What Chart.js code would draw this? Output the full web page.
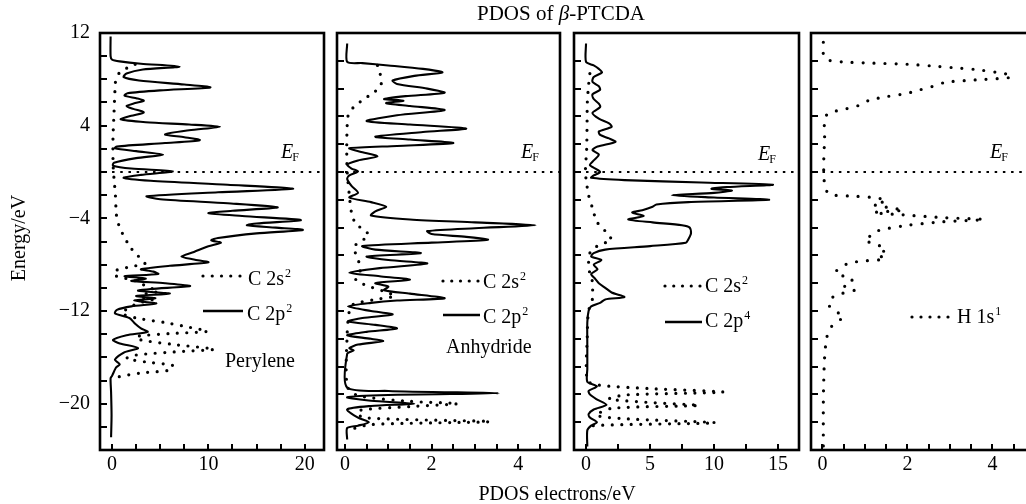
<!DOCTYPE html>
<html><head><meta charset="utf-8">
<script src="https://cdn.jsdelivr.net/npm/chart.js@4.4.1/dist/chart.umd.min.js"></script>
<style>
html,body{margin:0;padding:0;background:#fff;width:1026px;height:504px;overflow:hidden}
canvas{position:absolute;left:0;top:0}
</style></head><body>
<canvas id="p1" width="1040" height="504"></canvas>
<canvas id="p2" width="1040" height="504"></canvas>
<canvas id="p3" width="1040" height="504"></canvas>
<canvas id="p4" width="1040" height="504"></canvas>
<script>
const FONT = '"Liberation Serif","Times New Roman",Times,serif';
const E_MIN = -24, E_MAX = 12, EF = 0;

// [energy (eV), PDOS (electrons/eV)]
const peryleneC2p = [[11.7,-0.15],[10.0,-0.15],[9.7,0.0],[9.55,0.8],[9.35,3.0],[9.1,7.0],[8.85,3.2],[8.5,1.5],[8.2,1.2],[7.9,2.8],[7.55,7.5],[7.3,10.2],[7.05,5.0],[6.8,1.6],[6.6,1.3],[6.35,2.6],[6.15,3.3],[5.95,2.4],[5.7,1.5],[5.45,2.2],[5.15,3.3],[4.85,2.0],[4.55,0.9],[4.3,3.5],[4.1,8.0],[3.9,11.2],[3.6,8.0],[3.25,5.5],[3.0,7.5],[2.75,9.1],[2.5,5.5],[2.2,0.5],[2.05,0.3],[1.8,2.5],[1.5,5.3],[1.2,2.5],[0.8,0.2],[0.55,0.1],[0.3,2.0],[0.05,6.3],[-0.25,3.0],[-0.5,1.2],[-0.75,4.0],[-1.1,12.0],[-1.45,18.8],[-1.75,11.0],[-2.1,3.6],[-2.35,5.0],[-2.7,12.0],[-3.05,17.2],[-3.35,12.5],[-3.55,10.0],[-3.8,13.5],[-4.15,19.6],[-4.45,15.0],[-4.6,14.0],[-4.8,17.0],[-5.0,19.8],[-5.3,15.0],[-5.7,11.0],[-5.9,10.3],[-6.1,11.3],[-6.4,10.0],[-6.9,8.5],[-7.3,7.2],[-7.55,8.5],[-7.8,10.0],[-8.1,6.0],[-8.4,3.0],[-8.6,4.3],[-8.8,4.8],[-9.0,1.3],[-9.2,3.5],[-9.4,2.0],[-9.6,5.5],[-9.85,8.1],[-10.1,4.0],[-10.25,2.7],[-10.5,6.0],[-10.7,2.5],[-10.9,4.5],[-11.1,2.3],[-11.35,4.6],[-11.6,2.0],[-11.9,0.5],[-12.2,0.3],[-12.6,1.8],[-13.1,2.4],[-13.5,3.0],[-13.8,3.7],[-14.1,1.5],[-14.5,0.1],[-14.8,0.8],[-15.2,2.7],[-15.6,1.2],[-16.2,0.3],[-16.6,0.8],[-16.9,0.4],[-17.6,0.0],[-17.8,-0.15],[-19,-0.1],[-21,-0.05],[-22.9,-0.1]];
const peryleneC2s = [[9.3,2.4],[9.0,1.6],[8.6,0.8],[8.0,0.4],[7.0,0.3],[5.0,0.2],[3.0,0.1],[1.0,0.1],[0.0,0.15],[-1.0,0.25],[-2.0,0.35],[-3.0,0.4],[-4.0,0.5],[-4.8,0.8],[-5.5,1.2],[-6.1,1.6],[-6.6,2.0],[-7.1,2.5],[-7.6,3.2],[-7.9,3.4],[-8.2,1.8],[-8.5,0.4],[-8.9,0.2],[-9.2,1.5],[-9.5,2.8],[-9.9,3.6],[-10.3,4.8],[-10.5,3.5],[-10.8,3.0],[-11.0,4.2],[-11.3,2.8],[-11.7,1.8],[-12.2,1.0],[-12.6,2.5],[-13.0,5.5],[-13.4,8.0],[-13.75,9.9],[-13.95,6.0],[-14.2,2.5],[-14.5,3.0],[-14.9,6.5],[-15.3,10.6],[-15.5,7.0],[-15.8,2.5],[-16.1,1.5],[-16.4,3.5],[-16.7,6.3],[-17.1,6.0],[-17.35,3.0],[-17.7,0.6],[-18.0,0.1]];
const anhydrideC2p = [[11.1,0.05],[9.5,0.05],[9.4,0.4],[9.2,1.0],[8.9,1.8],[8.6,2.25],[8.3,1.6],[7.9,1.1],[7.6,1.2],[7.2,1.9],[6.85,2.3],[6.55,1.4],[6.3,0.9],[6.15,1.35],[5.95,0.95],[5.7,1.5],[5.35,2.3],[4.9,1.2],[4.4,0.5],[4.1,1.5],[3.75,2.8],[3.45,1.8],[3.05,0.7],[2.8,1.5],[2.5,2.5],[2.25,1.2],[2.05,0.1],[1.75,0.35],[1.35,0.75],[1.0,0.3],[0.65,0.05],[0.3,0.15],[0.05,0.3],[-0.3,0.1],[-0.6,0.05],[-1.2,0.15],[-1.8,0.3],[-2.2,0.1],[-2.6,0.6],[-3.0,0.95],[-3.4,0.7],[-3.75,0.6],[-4.1,1.5],[-4.35,3.0],[-4.6,4.4],[-4.85,3.0],[-5.1,1.9],[-5.35,2.0],[-5.6,2.8],[-5.85,3.3],[-6.1,2.0],[-6.4,0.4],[-6.7,0.7],[-7.0,1.75],[-7.3,0.5],[-7.6,1.0],[-7.9,1.9],[-8.3,0.8],[-8.7,0.1],[-9.0,0.8],[-9.3,1.5],[-9.6,0.7],[-9.9,1.0],[-10.2,0.9],[-10.5,1.5],[-10.9,2.3],[-11.1,1.2],[-11.3,0.6],[-11.6,0.07],[-12.0,0.6],[-12.3,1.1],[-12.6,0.4],[-12.9,0.07],[-13.2,0.7],[-13.5,1.2],[-13.8,0.5],[-14.1,0.05],[-14.4,0.6],[-14.6,0.88],[-14.9,0.3],[-15.2,0.1],[-15.4,0.2],[-15.7,0.05],[-18.6,0.05],[-18.9,1.0],[-19.1,3.55],[-19.25,1.0],[-19.45,0.05],[-19.75,0.6],[-20.0,1.6],[-20.2,0.6],[-20.5,0.05],[-21.2,0.3],[-21.6,0.55],[-21.9,0.3],[-22.1,0.05],[-23.1,0.05]];
const anhydrideC2s = [[9.2,0.75],[8.6,0.8],[7.9,0.85],[7.3,0.8],[6.7,0.6],[6.2,0.4],[5.6,0.2],[5.0,0.08],[4.0,0.05],[2.0,0.04],[0.0,0.05],[-2.0,0.1],[-3.5,0.15],[-4.5,0.25],[-5.0,0.45],[-5.5,0.55],[-6.0,0.35],[-6.5,0.2],[-7.5,0.3],[-8.5,0.35],[-9.3,0.25],[-9.8,0.5],[-10.3,0.9],[-10.7,1.15],[-11.0,0.7],[-11.4,0.2],[-12.0,0.1],[-14.0,0.05],[-18.5,0.05],[-19.3,0.3],[-19.8,1.5],[-20.0,2.6],[-20.25,1.5],[-20.6,0.3],[-21.2,0.4],[-21.55,3.35],[-21.8,0.6],[-22.3,0.05]];
const thirdC2p = [[11.1,0.0],[9.5,0.0],[9.2,0.6],[8.9,1.0],[8.6,1.25],[8.2,0.6],[7.8,0.5],[7.4,1.0],[7.1,1.1],[6.7,0.5],[6.3,0.6],[5.9,1.0],[5.6,1.1],[5.1,0.5],[4.6,1.0],[4.2,1.8],[3.9,2.0],[3.5,1.0],[3.2,1.1],[2.9,1.8],[2.6,2.3],[2.2,0.9],[1.9,0.5],[1.5,1.0],[1.0,0.6],[0.6,0.3],[0.25,0.8],[0.0,1.1],[-0.3,0.6],[-0.5,0.4],[-0.7,3.0],[-0.9,9.0],[-1.1,14.6],[-1.3,11.0],[-1.45,9.8],[-1.6,11.4],[-1.8,10.0],[-2.0,6.7],[-2.2,10.0],[-2.4,14.3],[-2.6,8.0],[-2.8,5.5],[-3.0,5.2],[-3.3,4.4],[-3.5,3.6],[-3.8,4.5],[-4.1,3.3],[-4.35,5.2],[-4.6,7.5],[-4.8,8.1],[-5.3,8.2],[-5.8,8.0],[-6.1,7.8],[-6.4,5.0],[-6.7,1.5],[-7.0,0.6],[-7.3,0.4],[-7.6,1.2],[-8.0,0.6],[-8.4,0.9],[-8.8,0.4],[-9.2,0.7],[-9.6,1.0],[-10.0,1.5],[-10.4,2.0],[-10.8,3.0],[-11.0,1.5],[-11.3,1.1],[-11.6,0.4],[-12.0,0.2],[-13,0.1],[-15,0.1],[-17,0.1],[-18.1,0.1],[-18.5,0.85],[-18.9,0.2],[-19.2,0.3],[-19.6,0.8],[-20.1,1.6],[-20.5,0.6],[-20.9,0.2],[-21.2,0.3],[-21.6,0.85],[-21.9,0.4],[-22.3,0.1],[-23.7,0.1]];
const thirdC2s = [[8.5,0.3],[7.5,0.2],[6.0,0.1],[4.0,0.08],[2.0,0.05],[0.0,-0.05],[-1.0,0.05],[-2.0,0.2],[-3.0,0.47],[-4.3,0.85],[-5.1,1.5],[-5.9,2.0],[-6.2,1.2],[-6.6,0.6],[-7.0,0.3],[-7.8,0.2],[-8.8,0.3],[-9.3,0.47],[-10.0,0.5],[-10.8,0.55],[-11.5,0.3],[-12.5,0.15],[-14,0.1],[-18.0,0.1],[-18.4,1.0],[-18.7,5.0],[-19.0,10.7],[-19.25,3.0],[-19.6,1.8],[-19.9,5.0],[-20.15,8.8],[-20.4,2.0],[-21.0,0.8],[-21.3,3.0],[-21.65,10.1],[-21.9,0.5],[-22.3,0.05]];
const hydrogenH1s = [[11.2,0.02],[10.2,0.02],[9.7,0.1],[9.5,0.5],[9.4,1.2],[9.3,2.0],[9.15,2.6],[9.0,3.1],[8.85,3.6],[8.6,4.1],[8.35,4.45],[8.15,4.4],[7.95,3.6],[7.75,2.9],[7.4,2.6],[7.1,2.3],[6.8,2.0],[6.5,1.5],[6.2,1.1],[5.8,0.9],[5.4,0.5],[5.1,0.15],[4.6,0.05],[3.0,0.05],[1.0,0.03],[0.0,0.03],[-1.0,0.05],[-1.9,0.15],[-2.1,0.8],[-2.25,1.3],[-2.5,1.5],[-2.8,1.2],[-3.1,1.6],[-3.3,1.9],[-3.5,1.2],[-3.7,1.9],[-3.95,2.9],[-4.1,3.8],[-4.3,2.8],[-4.6,2.0],[-4.9,1.5],[-5.2,1.2],[-5.6,1.1],[-5.9,1.0],[-6.3,1.3],[-6.7,1.5],[-7.1,1.3],[-7.5,1.47],[-7.7,0.9],[-7.9,0.6],[-8.3,0.4],[-8.7,0.3],[-9.0,0.5],[-9.3,0.7],[-9.8,0.5],[-10.2,0.75],[-10.5,0.45],[-10.9,0.2],[-11.5,0.15],[-12.0,0.3],[-12.5,0.5],[-12.9,0.35],[-13.4,0.2],[-14.3,0.1],[-16,0.05],[-18,0.03],[-20,0.02],[-23.7,0.02]];

const yTickLabels = [12, 4, -4, -12, -20];
const xLabels1 = [0, 10, 20];
const xLabels2 = [0, 2, 4];
const xLabels3 = [0, 5, 10, 15];
const xLabels4 = [0, 2, 4];

const fmt = v => (v < 0 ? '\u2212' + Math.abs(v) : String(v));
const toXY = arr => arr.map(([e, p]) => ({x: p, y: e}));
const has = (list, v) => list.some(l => Math.abs(l - v) < 1e-6);

const panels = [
  {canvas:'p1', left:100, right:324, yw:100, xmin:-1.25, xmax:22, xstep:2.5, ystep:2, xLabels:xLabels1, yLabels:yTickLabels,
   lines:[{pts:peryleneC2s, dot:9.5},{pts:peryleneC2p}],
   legend:[{kind:'dot',x1:203,x2:240,y:276,tx:248,base:285,text:'C 2s',sup:'2'},{kind:'line',x1:203,x2:243,y:311,tx:247,base:320,text:'C 2p',sup:'2'}],
   note:{text:'Perylene',x:225,base:367}, ef:{x:281,base:158}, global:true},
  {canvas:'p2', left:337, right:560, yw:30, xmin:-0.185, xmax:4.965, xstep:0.5, ystep:2.4, xLabels:xLabels2, yLabels:null,
   lines:[{pts:anhydrideC2s, dot:9.5},{pts:anhydrideC2p}],
   legend:[{kind:'dot',x1:443,x2:478,y:281,tx:483,base:288,text:'C 2s',sup:'2'},{kind:'line',x1:443,x2:480,y:315,tx:483,base:323,text:'C 2p',sup:'2'}],
   note:{text:'Anhydride',x:446,base:353}, ef:{x:521,base:158}},
  {canvas:'p3', left:574, right:799, yw:30, xmin:-0.94, xmax:16.64, xstep:2.5, ystep:2.4, xLabels:xLabels3, yLabels:null,
   lines:[{pts:thirdC2s, dot:9.5},{pts:thirdC2p}],
   legend:[{kind:'dot',x1:665,x2:700,y:286,tx:705,base:292,text:'C 2s',sup:'2'},{kind:'line',x1:665,x2:702,y:322,tx:705,base:327,text:'C 2p',sup:'4'}],
   note:null, ef:{x:758,base:160}},
  {canvas:'p4', left:811, right:1035, yw:30, xmin:-0.27, xmax:5.0, xstep:0.5, ystep:2.4, xLabels:xLabels4, yLabels:null,
   lines:[{pts:hydrogenH1s, dot:11}],
   legend:[{kind:'dot',x1:912,x2:948,y:317,tx:957,base:323,text:'H 1s',sup:'1'}],
   note:null, ef:{x:990,base:158}}
];

function richText(ctx, x, base, text, sup) {
  ctx.font = '20px ' + FONT; ctx.textAlign = 'left'; ctx.textBaseline = 'alphabetic';
  ctx.fillText(text, x, base);
  const w = ctx.measureText(text).width;
  if (sup) { ctx.font = '12px ' + FONT; ctx.fillText(sup, x + w + 1, base - 8); }
}

function decor(p) {
  return {
    id: 'decor_' + p.canvas,
    afterDraw(chart) {
      const ctx = chart.ctx, a = chart.chartArea;
      const xs = chart.scales.x, ys = chart.scales.y;
      ctx.save();
      ctx.strokeStyle = '#000'; ctx.fillStyle = '#000';
      ctx.lineWidth = 2; ctx.lineCap = 'butt'; ctx.setLineDash([]);
      ys.ticks.forEach(t => {
        const py = Math.round(ys.getPixelForValue(t.value));
        ctx.beginPath(); ctx.moveTo(a.left, py); ctx.lineTo(a.left + 7, py); ctx.stroke();
      });
      xs.ticks.forEach(t => {
        const px = Math.round(xs.getPixelForValue(t.value));
        ctx.beginPath(); ctx.moveTo(px, a.bottom); ctx.lineTo(px, a.bottom - 6); ctx.stroke();
      });
      ctx.lineWidth = 2.6;
      ctx.strokeRect(a.left, a.top, a.right - a.left, a.bottom - a.top);
      p.legend.forEach(l => {
        if (l.kind === 'dot') {
          for (let x = l.x1; x <= l.x2 + 0.1; x += (l.x2 - l.x1) / 4) {
            ctx.beginPath(); ctx.arc(x, l.y, 1.6, 0, Math.PI * 2); ctx.fill();
          }
        } else {
          ctx.lineWidth = 2.4; ctx.beginPath(); ctx.moveTo(l.x1, l.y); ctx.lineTo(l.x2, l.y); ctx.stroke();
        }
        richText(ctx, l.tx, l.base, l.text, l.sup);
      });
      if (p.note) { ctx.font = '20px ' + FONT; ctx.textAlign = 'left'; ctx.fillText(p.note.text, p.note.x, p.note.base); }
      ctx.font = 'italic 20px ' + FONT; ctx.textAlign = 'left'; ctx.textBaseline = 'alphabetic';
      ctx.fillText('E', p.ef.x, p.ef.base);
      const we = ctx.measureText('E').width;
      ctx.font = '12px ' + FONT; ctx.fillText('F', p.ef.x + we - 1, p.ef.base + 3);
      if (p.global) {
        const parts = [['PDOS of ', ''], ['\u03B2', 'italic '], ['-PTCDA', '']];
        let tw = 0;
        parts.forEach(([t, s]) => { ctx.font = s + '21px ' + FONT; tw += ctx.measureText(t).width; });
        let x = 561 - tw / 2;
        parts.forEach(([t, s]) => { ctx.font = s + '21px ' + FONT; ctx.fillText(t, x, 20); x += ctx.measureText(t).width; });
        ctx.font = '20px ' + FONT; ctx.textAlign = 'center';
        ctx.fillText('PDOS electrons/eV', 557, 500);
        ctx.save(); ctx.translate(25, 238); ctx.rotate(-Math.PI / 2);
        ctx.fillText('Energy/eV', 0, 0); ctx.restore();
      }
      ctx.restore();
    }
  };
}

panels.forEach(p => {
  const datasets = p.lines.map(l => ({
    data: toXY(l.pts), showLine: true, pointRadius: 0, borderColor: '#000',
    borderWidth: l.dot ? 3.2 : 2.1, borderDash: l.dot ? [0, l.dot] : [], borderCapStyle: l.dot ? 'round' : 'butt',
    tension: 0.25, fill: false
  }));
  datasets.push({
    data: [{x: 0, y: EF}, {x: p.xmax, y: EF}], showLine: true, pointRadius: 0, borderColor: '#000',
    borderWidth: 2, borderDash: [2.5, 5.7], borderCapStyle: 'butt', tension: 0, fill: false
  });
  new Chart(document.getElementById(p.canvas), {
    type: 'scatter',
    data: {datasets},
    options: {
      responsive: false, animation: false, events: [], devicePixelRatio: 1,
      layout: {padding: {left: p.left - p.yw, right: 1040 - p.right, top: 33, bottom: 504 - 450 - 40}},
      plugins: {legend: {display: false}, tooltip: {enabled: false}, title: {display: false}},
      scales: {
        x: {type: 'linear', min: p.xmin, max: p.xmax,
            afterFit: s => { s.height = 40; },
            grid: {display: false, drawTicks: false, tickLength: 0}, border: {display: false},
            ticks: {stepSize: p.xstep, includeBounds: false, autoSkip: false, maxRotation: 0, padding: 3,
                    color: '#000', font: {family: FONT, size: 20},
                    callback: v => has(p.xLabels, v) ? String(v) : ''}},
        y: {type: 'linear', min: E_MIN, max: E_MAX,
            afterFit: s => { s.width = p.yw; },
            grid: {display: false, drawTicks: false, tickLength: 0}, border: {display: false},
            ticks: {stepSize: p.ystep, includeBounds: false, autoSkip: false, padding: 10,
                    display: !!p.yLabels, color: '#000', font: {family: FONT, size: 20},
                    callback: v => (p.yLabels && has(p.yLabels, v)) ? fmt(v) : ''}}
      }
    },
    plugins: [decor(p)]
  });
});
</script></body></html>
